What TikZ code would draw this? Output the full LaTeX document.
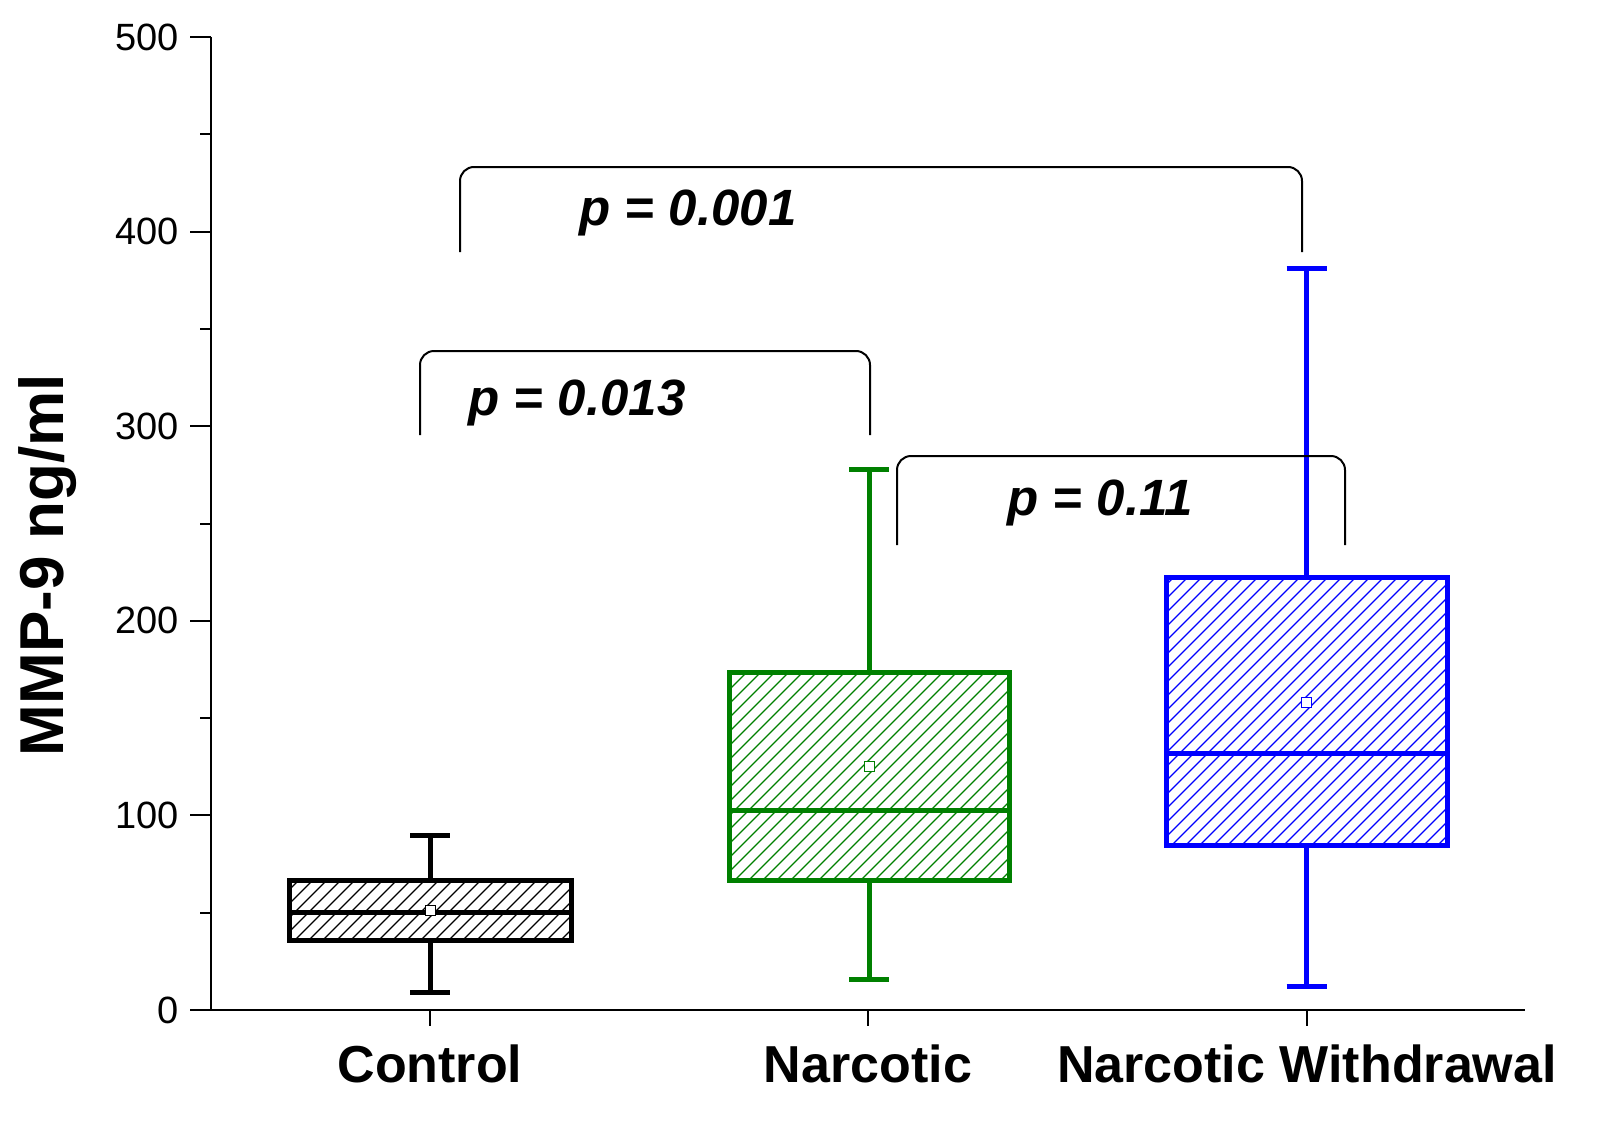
\documentclass[tikz,border=0pt]{standalone}
\usepackage{fontspec}
\setmainfont{Liberation Sans}
\definecolor{cg}{RGB}{0,128,0}
\definecolor{cb}{RGB}{0,0,255}
\begin{document}
\begin{tikzpicture}[x=1pt,y=-1pt,
 tick/.style={font=\fontsize{38}{38}\selectfont,anchor=east},
 cat/.style={font=\bfseries\fontsize{52}{52}\selectfont,anchor=base},
 pl/.style={font=\bfseries\itshape\fontsize{51}{51}\selectfont},
 br/.style={line width=2pt,rounded corners=14pt}]
\useasboundingbox (0,0) rectangle (1597,1124);
% axes
\draw[line width=2pt] (211,37) -- (211,1010) -- (1525,1010);
\foreach \v in {0,100,...,500}{
 \draw[line width=2pt] (211,{1010-1.946*\v}) -- (190,{1010-1.946*\v});
 \node[tick] at (182,{1010-1.946*\v}) {\v};}
\foreach \v in {50,150,...,450}
 \draw[line width=2pt] (211,{1010-1.946*\v}) -- (200,{1010-1.946*\v});
\foreach \x in {430,868,1307} \draw[line width=2pt] (\x,1010) -- (\x,1026);
\node[cat] at (430,1082) {Control};
\node[cat] at (868,1082) {Narcotic};
\node[cat] at (1307,1082) {Narcotic Withdrawal};
\node[rotate=90,font=\bfseries\fontsize{62}{62}\selectfont] at (48,565) {MMP-9 ng/ml};
\newcommand{\bx}[9]{%
 \begin{scope}
 \clip (#2,#5) rectangle (#3,#4);
 \foreach \k in {-400,-386,...,400} \draw[#1,line width=1.2pt] ({#2+\k},#4) -- ++(400,-400);
 \end{scope}
 \draw[#1,line width=5pt] (#2,#5) rectangle (#3,#4);
 \draw[#1,line width=5pt] (#2,#6) -- (#3,#6);
 \pgfmathsetmacro\c{(#2+#3)/2}
 \draw[#1,line width=5pt] (\c,#4) -- (\c,#7) (\c,#5) -- (\c,#8);
 \draw[#1,line width=5pt] (\c-20,#7) -- (\c+20,#7) (\c-20,#8) -- (\c+20,#8);
 \draw[#1,line width=1pt,fill=white] (\c-5,#9-5) rectangle (\c+5,#9+5);
}
\bx{black}{289}{571}{940}{880}{912}{992}{835}{910}
\bx{cg}{729}{1009}{880}{672}{810}{979}{469}{766}
\bx{cb}{1166}{1447}{845}{577}{753}{986}{268}{702}
\coordinate (a1) at (460,252); \coordinate (a2) at (1302,252);
\draw[br] (a1) -- (460,167) -- (1302,167) -- (a2);
\node[pl] at (688,213) {p = 0.001};
\coordinate (b1) at (420,435); \coordinate (b2) at (870,435);
\draw[br] (b1) -- (420,351) -- (870,351) -- (b2);
\node[pl] at (577,403) {p = 0.013};
\coordinate (c1) at (897,545); \coordinate (c2) at (1345,545);
\draw[br] (c1) -- (897,456) -- (1345,456) -- (c2);
\node[pl] at (1100,503) {p = 0.11};
\end{tikzpicture}
\end{document}
